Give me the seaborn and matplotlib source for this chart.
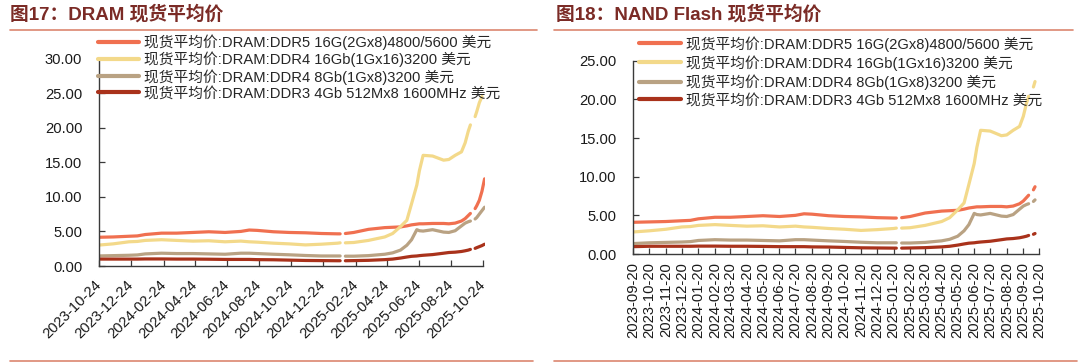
import pandas as pd
import numpy as np
import matplotlib
matplotlib.use('Agg')
import matplotlib.pyplot as plt
import matplotlib.dates as mdates
from matplotlib.lines import Line2D
import seaborn as sns

sns.set_theme(style='ticks')
plt.rcParams['font.family'] = ['Liberation Sans', 'Noto Sans CJK SC']
plt.rcParams['axes.unicode_minus'] = False

# spot prices (USD), same series in both panels; NaN = holiday gap
dates = [
    "2023-09-20", "2023-10-20", "2023-11-20", "2023-12-20", "2024-01-05",
    "2024-01-20", "2024-02-20", "2024-03-20", "2024-04-20", "2024-05-20",
    "2024-06-20", "2024-07-20", "2024-08-05", "2024-08-20", "2024-09-20",
    "2024-10-20", "2024-11-20", "2024-12-20", "2025-01-20", "2025-01-25",
    "2025-01-29", "2025-02-04", "2025-02-20", "2025-03-20", "2025-04-20",
    "2025-05-05", "2025-05-20", "2025-06-01", "2025-06-10", "2025-06-20",
    "2025-06-25", "2025-07-02", "2025-07-20", "2025-08-10", "2025-08-20",
    "2025-09-01", "2025-09-13", "2025-09-20", "2025-09-26", "2025-09-30",
    "2025-10-04", "2025-10-09", "2025-10-12", "2025-10-17", "2025-10-22",
    "2025-10-27",
]
ddr5_16g = [
    4.10, 4.15, 4.20, 4.30, 4.35, 4.55, 4.75, 4.75, 4.85, 4.95,
    4.85, 5.00, 5.20, 5.15, 4.95, 4.85, 4.80, 4.70, 4.65, 4.65,
    np.nan, 4.70, 4.85, 5.30, 5.55, 5.60, 5.65, 5.80, 5.95, 6.05,
    6.10, 6.10, 6.15, 6.15, 6.10, 6.20, 6.50, 6.85, 7.30, 7.60,
    np.nan, 8.30, 8.70, 9.50, 10.80, 12.60,
]
ddr4_16gb = [
    2.85, 3.00, 3.20, 3.50, 3.55, 3.70, 3.80, 3.70, 3.60, 3.65,
    3.50, 3.60, 3.50, 3.45, 3.30, 3.20, 3.05, 3.15, 3.30, 3.35,
    np.nan, 3.35, 3.40, 3.70, 4.20, 4.70, 5.70, 6.60, 9.00, 11.70,
    13.80, 16.00, 15.90, 15.30, 15.40, 16.00, 16.50, 17.80, 19.50, 20.40,
    np.nan, 21.60, 22.30, 23.60, 24.50, np.nan,
]
ddr4_8gb = [
    1.35, 1.45, 1.50, 1.55, 1.60, 1.75, 1.85, 1.80, 1.80, 1.75,
    1.70, 1.85, 1.85, 1.80, 1.70, 1.62, 1.52, 1.45, 1.45, 1.45,
    np.nan, 1.42, 1.42, 1.50, 1.70, 1.90, 2.30, 3.00, 3.80, 5.25,
    5.10, 5.05, 5.25, 4.90, 4.85, 5.10, 5.80, 6.20, 6.40, 6.50,
    np.nan, 6.80, 7.00, 7.50, 8.00, 8.50,
]
ddr3_4gb = [
    0.95, 1.00, 1.00, 1.00, 1.00, 1.02, 1.02, 1.00, 1.00, 0.98,
    0.95, 0.95, 0.95, 0.92, 0.90, 0.85, 0.80, 0.78, 0.76, 0.76,
    np.nan, 0.76, 0.78, 0.82, 0.92, 1.00, 1.15, 1.30, 1.40, 1.45,
    1.50, 1.55, 1.65, 1.85, 1.95, 2.00, 2.10, 2.20, 2.30, 2.40,
    np.nan, 2.55, 2.65, 2.80, 2.95, 3.15,
]

series_labels = [
    "现货平均价:DRAM:DDR5 16G(2Gx8)4800/5600 美元",
    "现货平均价:DRAM:DDR4 16Gb(1Gx16)3200 美元",
    "现货平均价:DRAM:DDR4 8Gb(1Gx8)3200 美元",
    "现货平均价:DRAM:DDR3 4Gb 512Mx8 1600MHz 美元",
]
series_colors = ['#f07050', '#f3d98a', '#b9a283', '#a9321b']

TITLE_COLOR = '#7b2b26'
RULE_COLOR = '#dc8670'
W, H = 1080, 364
FS = 10.6


def load_data():
    df = pd.DataFrame({
        'date': pd.to_datetime(dates),
        series_labels[0]: ddr5_16g,
        series_labels[1]: ddr4_16gb,
        series_labels[2]: ddr4_8gb,
        series_labels[3]: ddr3_4gb,
    })
    long = df.melt(id_vars='date', var_name='series', value_name='price')
    # split lines at the gaps so seaborn does not bridge them
    long['seg'] = long.groupby('series')['price'].transform(lambda s: s.isna().cumsum())
    return long.dropna()


def fx(px):
    return px / W


def fy(py):
    return 1 - py / H


def draw_panel(fig, rect, data, xlim, ticks, rotation, ymax, xpad, legend_xy, spacing):
    ax = fig.add_axes(rect)
    sns.lineplot(data=data, x='date', y='price', hue='series', hue_order=series_labels,
                 palette=series_colors, units='seg', estimator=None, lw=2.3, ax=ax)
    ax.set_xlim(pd.Timestamp(xlim[0]), pd.Timestamp(xlim[1]))
    ax.set_ylim(0, ymax)
    ax.set_yticks(np.arange(0, ymax + 0.1, 5))
    ax.set_yticklabels([f"{v:.2f}" for v in np.arange(0, ymax + 0.1, 5)])
    ax.set_xticks(ticks)
    ax.set_xticklabels([t.strftime('%Y-%m-%d') for t in ticks])
    ax.set_xlabel('')
    ax.set_ylabel('')
    sns.despine(ax=ax)
    for side in ['left', 'bottom']:
        ax.spines[side].set_color('#3a3a3a')
        ax.spines[side].set_linewidth(1.0)
    ax.spines['bottom'].set_bounds(mdates.date2num(ticks[0]), mdates.date2num(ticks[-1]))
    ax.tick_params(axis='both', direction='in', length=4, width=0.9, color='#3a3a3a',
                   labelcolor='#1a1a1a', labelsize=10.6)
    ax.tick_params(axis='y', pad=12)
    ax.tick_params(axis='x', pad=xpad)
    if rotation == 45:
        for lab in ax.get_xticklabels():
            lab.set_rotation(45)
            lab.set_ha('right')
            lab.set_va('center')
            lab.set_rotation_mode('anchor')
    else:
        for lab in ax.get_xticklabels():
            lab.set_rotation(90)
            lab.set_ha('center')
            lab.set_va('top')

    handles, labs = ax.get_legend_handles_labels()
    for h in handles:
        h.set_linewidth(3)
    ax.legend(handles, labs, loc='upper left', bbox_to_anchor=legend_xy,
              bbox_transform=fig.transFigure, frameon=False, borderpad=0,
              borderaxespad=0, fontsize=FS, handlelength=2.85,
              handletextpad=0.34, labelspacing=spacing)
    return ax


def main():
    df = load_data()
    fig = plt.figure(figsize=(10.8, 3.64), dpi=100)

    # left: DRAM
    px_day = 384 / 731
    left_rect = [fx(99), fy(266), 735 * px_day / W, 207.5 / H]
    left_ticks = list(pd.date_range('2023-10-24', '2025-10-24', freq=pd.DateOffset(months=2)))
    draw_panel(fig, left_rect, df, ('2023-10-24', '2025-10-28'), left_ticks, 45, 30,
               12, (fx(97.5), fy(34.5)), 0.12)

    # right: NAND Flash (snapshot ends earlier)
    right_df = df[df['date'] <= pd.Timestamp('2025-10-12')]
    right_rect = [fx(633.3), fy(254), 406 / W, 193.3 / H]
    right_ticks = list(pd.date_range('2023-09-20', '2025-10-20', freq=pd.DateOffset(months=1)))
    draw_panel(fig, right_rect, right_df, ('2023-09-20', '2025-10-20'), right_ticks, 90, 25,
               6, (fx(639), fy(36)), 0.24)

    # titles and rules
    fig.text(fx(10), fy(14), "图17：DRAM 现货平均价", ha='left', va='center',
             fontsize=13.5, fontweight='bold', color=TITLE_COLOR)
    fig.text(fx(556), fy(14), "图18：NAND Flash 现货平均价", ha='left', va='center',
             fontsize=13.5, fontweight='bold', color=TITLE_COLOR)
    for x0, x1, y in [(10, 537, 30), (554, 1073, 30), (10, 533, 361), (554, 1077, 361)]:
        fig.add_artist(Line2D([fx(x0), fx(x1)], [fy(y), fy(y)], color=RULE_COLOR, lw=1.2))

    fig.savefig('out.png', dpi=100, facecolor='white')
    plt.close(fig)


if __name__ == "__main__":
    main()
